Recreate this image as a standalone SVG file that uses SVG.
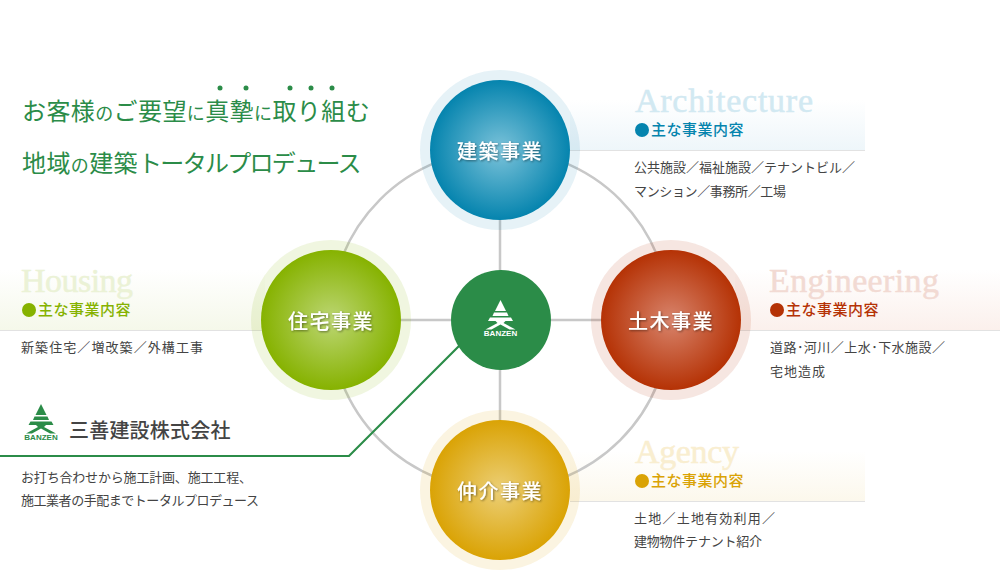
<svg xmlns="http://www.w3.org/2000/svg" width="1000" height="580" viewBox="0 0 1000 580">
<style>
text{font-family:"Noto Sans CJK JP","Liberation Serif",sans-serif}
.en{font-family:"Liberation Serif","Noto Sans CJK JP",serif;font-size:34px;stroke-width:.5px}
.head{font-size:15px;font-weight:500;letter-spacing:.5px}
.body{font-size:13px;fill:#444}
.title{font-size:24px;fill:#2b8c48;letter-spacing:.4px}
.title .s{font-size:18px}
.title .k{letter-spacing:-1.700px}
.lbl{font-size:20px;font-weight:500;fill:#fff;text-anchor:middle;letter-spacing:1.500px;filter:url(#sh)}
.rule{stroke:#e2e2e2;stroke-width:1}
.dot{fill:#2b8c48}
.bz{font-family:"Liberation Sans",sans-serif;font-size:8px;font-weight:700;text-anchor:middle}
</style>
<defs>
<filter id="sh" x="-10%" y="-30%" width="120%" height="160%"><feDropShadow dx="1" dy="1" stdDeviation="1" flood-color="#000" flood-opacity=".45"/></filter>
<radialGradient id="cb"><stop offset="0" stop-color="#7cc3da"/><stop offset="1" stop-color="#0584ae"/></radialGradient>
<radialGradient id="cg"><stop offset="0" stop-color="#bcd673"/><stop offset="1" stop-color="#86b200"/></radialGradient>
<radialGradient id="cr"><stop offset="0" stop-color="#d8846c"/><stop offset="1" stop-color="#b53205"/></radialGradient>
<radialGradient id="cy"><stop offset="0" stop-color="#eccf76"/><stop offset="1" stop-color="#daa305"/></radialGradient>
<linearGradient id="pb" x1="0" y1="0" x2="0" y2="1"><stop offset="0" stop-color="#eef6fa" stop-opacity="0"/><stop offset="1" stop-color="#eef6fa"/></linearGradient>
<linearGradient id="pg" x1="0" y1="0" x2="0" y2="1"><stop offset="0" stop-color="#f5f8ea" stop-opacity="0"/><stop offset="1" stop-color="#f5f8ea"/></linearGradient>
<linearGradient id="pr" x1="0" y1="0" x2="0" y2="1"><stop offset="0" stop-color="#fbf0ec" stop-opacity="0"/><stop offset="1" stop-color="#fbf0ec"/></linearGradient>
<linearGradient id="py" x1="0" y1="0" x2="0" y2="1"><stop offset="0" stop-color="#fcf8ec" stop-opacity="0"/><stop offset="1" stop-color="#fcf8ec"/></linearGradient>
<g id="logo"><polygon points="15,0 20.500,11 9.500,11"/><polygon points="8.500,12.500 21.500,12.500 23,16 7,16"/><polygon points="4.500,17.500 25.500,17.500 27.500,21 20,21 18,23 30,29.500 24,29.500 15,24.500 6,29.500 0,29.500 12,23 10,21 2.500,21"/></g>
</defs>

<g id="panel-backgrounds">
<rect x="570" y="100" width="295" height="50" fill="url(#pb)"/>
<rect x="0" y="270" width="265" height="60" fill="url(#pg)"/>
<rect x="735" y="270" width="265" height="60" fill="url(#pr)"/>
<rect x="570" y="451" width="295" height="50" fill="url(#py)"/>
</g>

<g id="connectors" fill="none">
<circle cx="500" cy="320" r="170" stroke="#c8c8c8" stroke-width="2.500"/>
<path d="M500 150V490M331 320H671" stroke="#c8c8c8" stroke-width="2.500"/>
<path d="M0 456H349L462 343" stroke="#2b8c48" stroke-width="2.200"/>
</g>

<g id="title">
<text class="title" x="22" y="120"><tspan>お客様</tspan><tspan class="s">の</tspan><tspan>ご要望</tspan><tspan class="s">に</tspan><tspan>真摯</tspan><tspan class="s">に</tspan><tspan>取り組む</tspan></text>
<text class="title" x="22" y="172"><tspan>地域</tspan><tspan class="s">の</tspan><tspan>建築</tspan><tspan class="k">トータルプロデュース</tspan></text>
<circle class="dot" cx="220" cy="88" r="2.500"/><circle class="dot" cx="246" cy="88" r="2.500"/><circle class="dot" cx="290" cy="88" r="2.500"/><circle class="dot" cx="311" cy="88" r="2.500"/><circle class="dot" cx="332" cy="88" r="2.500"/>
</g>

<g id="panel-architecture">
<path class="rule" d="M570 150.500H865"/>
<text class="en" x="635" y="112" fill="#d2e9f2" stroke="#d2e9f2" textLength="178">Architecture</text>
<circle cx="642" cy="130" r="7" fill="#0584ae"/><text class="head" x="651" y="135" fill="#0584ae">主な事業内容</text>
<text class="body" x="634" y="172" textLength="221">公共施設／福祉施設／テナントビル／</text>
<text class="body" x="634" y="196" textLength="152">マンション／事務所／工場</text>
</g>

<g id="panel-housing">
<path class="rule" d="M0 330.500H265"/>
<text class="en" x="21" y="292" fill="#ebf2d6" stroke="#ebf2d6" textLength="112">Housing</text>
<circle cx="29" cy="310" r="7" fill="#86b200"/><text class="head" x="38" y="315" fill="#86b200">主な事業内容</text>
<text class="body" x="21" y="352" textLength="182">新築住宅／増改築／外構工事</text>
</g>

<g id="panel-engineering">
<path class="rule" d="M735 330.500H1000"/>
<text class="en" x="769" y="292" fill="#f2dad3" stroke="#f2dad3" textLength="170">Engineering</text>
<circle cx="777" cy="310" r="7" fill="#b53205"/><text class="head" x="786" y="315" fill="#b53205">主な事業内容</text>
<text class="body" x="770" y="352" textLength="175">道路･河川／上水･下水施設／</text>
<text class="body" x="770" y="376" textLength="55">宅地造成</text>
</g>

<g id="panel-agency">
<path class="rule" d="M570 501.500H865"/>
<text class="en" x="635" y="463" fill="#f9eed0" stroke="#f9eed0" textLength="104">Agency</text>
<circle cx="642" cy="481" r="7" fill="#daa305"/><text class="head" x="651" y="486" fill="#daa305">主な事業内容</text>
<text class="body" x="634" y="523" textLength="141">土地／土地有効利用／</text>
<text class="body" x="634" y="546" textLength="128">建物物件テナント紹介</text>
</g>

<g id="company">
<use href="#logo" x="26" y="404" fill="#2b8c48"/>
<text class="bz" x="41" y="440" fill="#2b8c48">BANZEN</text>
<text x="69" y="438" font-size="20" font-weight="500" fill="#444" letter-spacing=".2">三善建設株式会社</text>
<text class="body" x="21" y="482" textLength="231">お打ち合わせから施工計画、施工工程、</text>
<text class="body" x="21" y="505" textLength="238">施工業者の手配までトータルプロデュース</text>
</g>

<g id="node-architecture"><circle cx="500" cy="150" r="80" fill="#0584ae" fill-opacity=".1"/><circle cx="500" cy="150" r="70" fill="url(#cb)"/><text class="lbl" x="500" y="158.500">建築事業</text></g>
<g id="node-housing"><circle cx="331" cy="320" r="80" fill="#86b200" fill-opacity=".12"/><circle cx="331" cy="320" r="70" fill="url(#cg)"/><text class="lbl" x="331" y="328.500">住宅事業</text></g>
<g id="node-engineering"><circle cx="671" cy="320" r="80" fill="#b53205" fill-opacity=".12"/><circle cx="671" cy="320" r="70" fill="url(#cr)"/><text class="lbl" x="671" y="328.500">土木事業</text></g>
<g id="node-agency"><circle cx="500" cy="490" r="80" fill="#daa305" fill-opacity=".12"/><circle cx="500" cy="490" r="70" fill="url(#cy)"/><text class="lbl" x="500" y="498.500">仲介事業</text></g>
<g id="node-center"><circle cx="501" cy="320" r="50" fill="#2b8c48"/><use href="#logo" x="485.500" y="300" fill="#fff"/><text class="bz" x="500.500" y="336" fill="#fff">BANZEN</text></g>
</svg>
